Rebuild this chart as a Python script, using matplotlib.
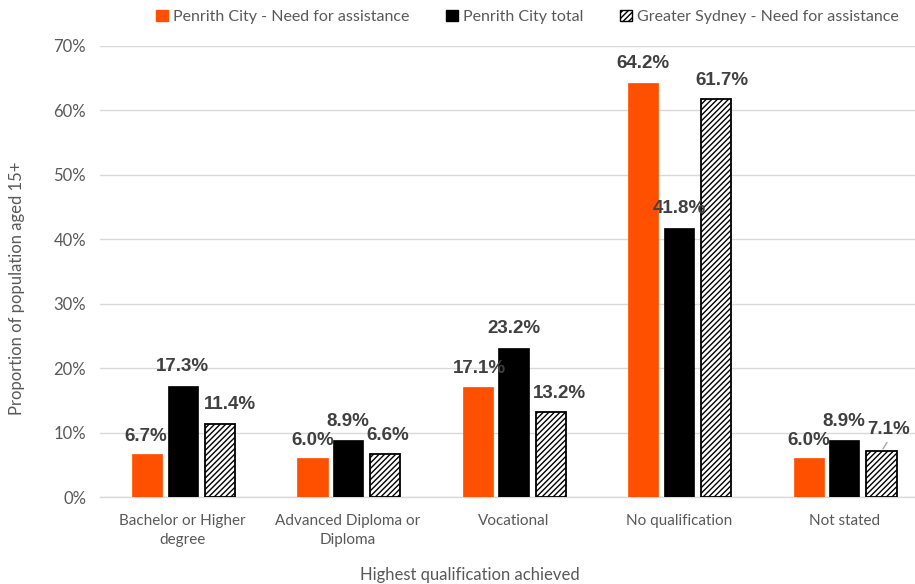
import matplotlib
matplotlib.use("Agg")
import matplotlib.pyplot as plt
import numpy as np
from matplotlib.patches import Patch

categories = ["Bachelor or Higher\ndegree", "Advanced Diploma or\nDiploma", "Vocational",
              "No qualification", "Not stated"]
penrith_need = [6.7, 6.0, 17.1, 64.2, 6.0]
penrith_total = [17.3, 8.9, 23.2, 41.8, 8.9]
sydney_need = [11.4, 6.6, 13.2, 61.7, 7.1]
series_names = ["Penrith City - Need for assistance", "Penrith City total",
                "Greater Sydney - Need for assistance"]
yticks = [0, 10, 20, 30, 40, 50, 60, 70]

REG = ['Lato', 'DejaVu Sans']
BOLD = ['Liberation Sans', 'DejaVu Sans']
TICK_C = '#595959'
LAB_C = '#404040'
ORANGE = '#FF5000'

plt.rcParams['hatch.linewidth'] = 1.0
plt.rcParams['hatch.color'] = 'black'

fig = plt.figure(figsize=(9.15, 5.84), dpi=100)
ax = fig.add_axes([100/915, 87/584, 827/915, 451/584])

x = np.arange(len(categories))
w = 0.183
offs = [-0.215, 0.0, 0.225]

b1 = ax.bar(x + offs[0], penrith_need, w, color=ORANGE, edgecolor=ORANGE, linewidth=0.5, zorder=3)
b2 = ax.bar(x + offs[1], penrith_total, w, color='black', edgecolor='black', linewidth=0.5, zorder=3)
b3 = ax.bar(x + offs[2], sydney_need, w, color='white', edgecolor='black', linewidth=1.3,
            hatch='//////', zorder=3)

ax.set_xlim(-0.5, len(categories) - 0.5)
ax.set_ylim(0, 70)
ax.set_yticks(yticks)
ax.set_yticklabels([f"{t}%" for t in yticks], family=REG, fontsize=12, color=TICK_C)
ax.set_xticks(x)
ax.set_xticklabels(categories, family=REG, fontsize=11, color=TICK_C, linespacing=1.45)
ax.tick_params(axis='both', length=0)
ax.tick_params(axis='y', pad=10)
ax.tick_params(axis='x', pad=12)
ax.yaxis.grid(True, color='#D9D9D9', linewidth=1.0, zorder=0)
ax.set_axisbelow(True)
for s in ['top', 'right', 'left']:
    ax.spines[s].set_visible(False)
ax.spines['bottom'].set_color('#D9D9D9')
ax.spines['bottom'].set_linewidth(1.0)

# data labels: (dx in points, dy in points) per series/category
dx = [[-1, 0, 1, 0, 0],
      [0, 0, 0, 0, 0],
      [7, 2, 6, 4, 5]]
dy = [[12.5, 13, 13, 14.5, 13],
      [13.5, 13, 14, 13.5, 13],
      [13.5, 13.5, 13.5, 14, 16]]
for si, (bars, vals) in enumerate(zip([b1, b2, b3], [penrith_need, penrith_total, sydney_need])):
    for ci, (bar, v) in enumerate(zip(bars, vals)):
        ax.annotate(f"{v:.1f}%", (bar.get_x() + bar.get_width()/2, v),
                    xytext=(dx[si][ci], dy[si][ci]), textcoords='offset points',
                    ha='center', va='center', fontsize=13.5, fontweight='bold',
                    family=BOLD, color=LAB_C, zorder=5)

# leader line for last label
lb = b3[-1]
ax.annotate("", xy=(lb.get_x() + lb.get_width()/2, sydney_need[-1]),
            xytext=(5, 8), textcoords='offset points',
            arrowprops=dict(arrowstyle='-', color='#A6A6A6', lw=1.0), zorder=4)

fig.text(470/915, 1 - 575/584, "Highest qualification achieved", family=REG, fontsize=12,
         color=TICK_C, ha='center', va='center')
fig.text(17/915, 1 - 288/584, "Proportion of population aged 15+", family=REG, fontsize=12,
         color=TICK_C, ha='center', va='center', rotation=90)

handles = [Patch(facecolor=ORANGE, edgecolor=ORANGE),
           Patch(facecolor='black', edgecolor='black'),
           Patch(facecolor='white', edgecolor='black', hatch='//////')]
leg = fig.legend(handles, series_names, loc='center left', bbox_to_anchor=(150/915, 1 - 17/584),
                 ncol=3, frameon=False, handlelength=0.75, handleheight=0.75, handletextpad=0.3,
                 columnspacing=2.3, prop={'family': REG, 'size': 11.5}, borderaxespad=0)
for t in leg.get_texts():
    t.set_color(TICK_C)

fig.savefig("out.png", dpi=100)
